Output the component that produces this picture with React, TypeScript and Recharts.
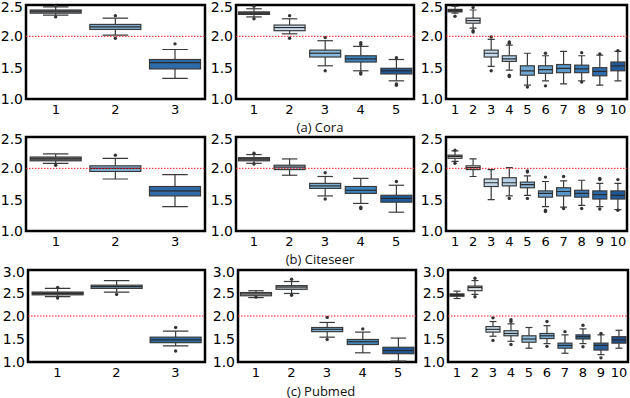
import React from 'react';
import { ComposedChart, Bar, XAxis, YAxis, ReferenceLine, ReferenceArea, Cell } from 'recharts';

type Box = { lo: number; q1: number; med: number; q3: number; hi: number; out: number[] };
const bx = (lo: number, q1: number, med: number, q3: number, hi: number, out: number[] = []): Box => ({ lo, q1, med, q3, hi, out });

const cats3 = ['1', '2', '3'];
const cats5 = ['1', '2', '3', '4', '5'];
const cats10 = ['1', '2', '3', '4', '5', '6', '7', '8', '9', '10'];

const yTicksLow = [1.0, 1.5, 2.0, 2.5];
const yTicksHigh = [1.0, 1.5, 2.0, 2.5, 3.0];
const captions = ['(a) Cora', '(b) Citeseer', '(c) Pubmed'];

// Cora
const coraA: Box[] = [
  bx(2.34, 2.37, 2.40, 2.42, 2.47, [2.49, 2.31]),
  bx(2.02, 2.11, 2.15, 2.19, 2.29, [2.33, 1.97]),
  bx(1.33, 1.48, 1.58, 1.63, 1.79, [1.88]),
];
const coraB: Box[] = [
  bx(2.31, 2.35, 2.37, 2.39, 2.44, [2.48, 2.28]),
  bx(2.04, 2.09, 2.14, 2.18, 2.28, [2.33, 1.97]),
  bx(1.53, 1.67, 1.73, 1.78, 1.93, [1.98, 1.45]),
  bx(1.45, 1.59, 1.64, 1.69, 1.84, [1.87, 1.90, 1.40, 1.42]),
  bx(1.29, 1.40, 1.45, 1.49, 1.63, [1.66, 1.22, 1.24]),
];
const coraC: Box[] = [
  bx(2.37, 2.39, 2.41, 2.43, 2.48, [2.32]),
  bx(2.13, 2.21, 2.25, 2.29, 2.42, [2.46, 2.07, 2.09]),
  bx(1.52, 1.67, 1.73, 1.78, 1.95, [1.99, 1.45]),
  bx(1.46, 1.60, 1.64, 1.69, 1.86, [1.89, 1.91, 1.38, 1.36]),
  bx(1.22, 1.38, 1.45, 1.53, 1.73, [1.19]),
  bx(1.29, 1.41, 1.47, 1.53, 1.69, [1.73, 1.21]),
  bx(1.24, 1.42, 1.49, 1.55, 1.76, []),
  bx(1.29, 1.42, 1.48, 1.54, 1.69, [1.74, 1.27]),
  bx(1.22, 1.37, 1.44, 1.50, 1.70, [1.72]),
  bx(1.29, 1.45, 1.53, 1.59, 1.76, [1.77]),
];

// Citeseer
const citeA: Box[] = [
  bx(2.08, 2.12, 2.15, 2.18, 2.23, [2.05]),
  bx(1.83, 1.95, 2.00, 2.04, 2.16, [2.21]),
  bx(1.39, 1.56, 1.64, 1.71, 1.90, []),
];
const citeB: Box[] = [
  bx(2.08, 2.12, 2.15, 2.17, 2.22, [2.24, 2.07]),
  bx(1.89, 1.98, 2.02, 2.05, 2.15, []),
  bx(1.56, 1.68, 1.72, 1.76, 1.87, [1.93, 1.51]),
  bx(1.44, 1.60, 1.65, 1.71, 1.84, [1.38, 1.36]),
  bx(1.30, 1.46, 1.52, 1.57, 1.73, [1.79]),
];
const citeC: Box[] = [
  bx(2.11, 2.16, 2.19, 2.21, 2.28, [2.29, 2.08]),
  bx(1.87, 1.98, 2.01, 2.04, 2.15, []),
  bx(1.50, 1.71, 1.77, 1.83, 1.98, []),
  bx(1.56, 1.72, 1.77, 1.85, 2.01, [1.52]),
  bx(1.57, 1.69, 1.74, 1.78, 1.88, [1.96, 1.94, 1.52]),
  bx(1.39, 1.54, 1.60, 1.64, 1.79, [1.86, 1.33, 1.31]),
  bx(1.38, 1.56, 1.63, 1.69, 1.80, [1.87, 1.36]),
  bx(1.41, 1.54, 1.60, 1.65, 1.81, [1.36]),
  bx(1.39, 1.51, 1.58, 1.64, 1.76, [1.84, 1.82, 1.35]),
  bx(1.34, 1.51, 1.57, 1.64, 1.76, [1.82, 1.33]),
];

// Pubmed
const pubA: Box[] = [
  bx(2.42, 2.46, 2.49, 2.52, 2.60, [2.62, 2.39]),
  bx(2.52, 2.60, 2.64, 2.67, 2.77, [2.47]),
  bx(1.35, 1.42, 1.48, 1.54, 1.67, [1.75, 1.24]),
];
const pubB: Box[] = [
  bx(2.40, 2.44, 2.48, 2.51, 2.55, [2.41]),
  bx(2.49, 2.58, 2.63, 2.66, 2.75, [2.80, 2.45]),
  bx(1.54, 1.66, 1.71, 1.75, 1.86, [1.97, 1.49]),
  bx(1.20, 1.38, 1.44, 1.49, 1.65, [1.72]),
  bx(1.02, 1.18, 1.25, 1.32, 1.52, []),
];
const pubC: Box[] = [
  bx(2.38, 2.43, 2.46, 2.48, 2.54, []),
  bx(2.47, 2.55, 2.62, 2.65, 2.77, [2.82, 2.42]),
  bx(1.56, 1.65, 1.71, 1.77, 1.88, [1.96, 1.47]),
  bx(1.45, 1.57, 1.62, 1.68, 1.83, [1.92, 1.88, 1.38]),
  bx(1.30, 1.43, 1.50, 1.57, 1.75, []),
  bx(1.40, 1.51, 1.57, 1.62, 1.79, [1.88, 1.34]),
  bx(1.19, 1.30, 1.36, 1.41, 1.59, [1.66]),
  bx(1.40, 1.50, 1.55, 1.59, 1.72, [1.80, 1.33]),
  bx(1.16, 1.26, 1.36, 1.41, 1.59, [1.62, 1.09]),
  bx(1.30, 1.41, 1.48, 1.55, 1.69, []),
];

// colours (style)
const pal3 = ['#75797d', '#7fb1d6', '#2d6ca8'];
const pal5r1 = ['#6a6a6a', '#c9dff0', '#86b9dc', '#3b84c0', '#215a99'];
const pal5r2 = ['#707070', '#9ec5e1', '#7cb1d8', '#3e85c0', '#1f5b9b'];
const pal5r3 = ['#c3c7ca', '#b6c1c8', '#7fb3d9', '#4b8fc7', '#1e5799'];
const pal10r1 = ['#555555', '#e4edf5', '#c4dcee', '#b3d1e8', '#6ea7d2', '#6aa5d2', '#5a99cb', '#3c80bd', '#2e6cb0', '#22599a'];
const pal10r2 = ['#cfcfcf', '#e8e8e8', '#c7dbeb', '#b5d0e6', '#8bb9db', '#6fa3cf', '#5796c9', '#3b7ab5', '#2967ab', '#1e5898'];
const pal10r3 = ['#333333', '#d6dde3', '#d0e3f2', '#b8d4ea', '#93c0e0', '#7eb3db', '#4d8fc8', '#2f6fb0', '#2a5f9e', '#1f4f8c'];

const BoxShape = (props: any) => {
  const { x, y, width, height, payload, fill } = props;
  if (payload == null || !isFinite(y) || !isFinite(height)) return null;
  const top = Math.min(y, y + height);
  const bot = Math.max(y, y + height);
  const { lo, hi, q1, q3, med, out } = payload;
  const span = hi - lo || 1;
  const py = (v: number) => bot - ((v - lo) / span) * (bot - top);
  const cx = x + width / 2;
  const capW = width * 0.5;
  const edge = '#3a3a3a';
  return (
    <g>
      <line x1={cx} x2={cx} y1={py(hi)} y2={py(q3)} stroke={edge} strokeWidth={1.2} />
      <line x1={cx} x2={cx} y1={py(q1)} y2={py(lo)} stroke={edge} strokeWidth={1.2} />
      <line x1={cx - capW / 2} x2={cx + capW / 2} y1={py(hi)} y2={py(hi)} stroke={edge} strokeWidth={1.2} />
      <line x1={cx - capW / 2} x2={cx + capW / 2} y1={py(lo)} y2={py(lo)} stroke={edge} strokeWidth={1.2} />
      <rect x={x} y={py(q3)} width={width} height={Math.max(1, py(q1) - py(q3))} fill={fill} stroke={edge} strokeWidth={1.2} />
      <line x1={x} x2={x + width} y1={py(med)} y2={py(med)} stroke="#2a2a2a" strokeWidth={1.2} />
      {out.map((o: number, i: number) => (
        <circle key={i} cx={cx} cy={py(o)} r={1.7} fill="#333" />
      ))}
    </g>
  );
};

const xTickStyle = { fontFamily: 'DejaVu Sans', fontSize: 13, fill: '#000' };
const yTickStyle = { fontFamily: 'DejaVu Sans', fontSize: 14, fill: '#000' };

type PanelProps = {
  boxes: Box[]; cats: string[]; colors: string[];
  left: number; top: number; right: number; bottom: number;
  yMax: number; yTicks: number[]; gap: string;
};

function Panel({ boxes, cats, colors, left, top, right, bottom, yMax, yTicks, gap }: PanelProps) {
  const data = cats.map((c, i) => ({ name: c, ...boxes[i] }));
  const ML = 30, MT = 6, MR = 6, XH = 20;
  const pw = right - left, ph = bottom - top;
  return (
    <div style={{ position: 'absolute', left: left - ML, top: top - MT }}>
      <ComposedChart width={pw + ML + MR} height={ph + MT + XH} data={data}
        margin={{ top: MT, right: MR, left: 0, bottom: 0 }} barCategoryGap={gap}>
        <XAxis dataKey="name" type="category" tickLine={false} axisLine={false} tickSize={1} tickMargin={5}
          height={XH} interval={0} tick={xTickStyle} />
        <YAxis type="number" domain={[1, yMax]} ticks={yTicks} allowDataOverflow width={ML}
          tickLine={false} axisLine={false} tickSize={1} tickMargin={2} tick={yTickStyle}
          tickFormatter={(v: number) => v.toFixed(1)} />
        <ReferenceLine y={2} stroke="#ff1a1a" strokeWidth={1} strokeDasharray="1.5 1.5" />
        <Bar dataKey={(d: any) => [d.lo, d.hi]} shape={BoxShape} isAnimationActive={false}>
          {data.map((_, i) => <Cell key={i} fill={colors[i]} />)}
        </Bar>
        <ReferenceArea y1={1} y2={yMax} fill="none" fillOpacity={0} stroke="#000" strokeWidth={2.5} ifOverflow="visible" />
      </ComposedChart>
    </div>
  );
}

const captionStyle: React.CSSProperties = {
  position: 'absolute', width: 200, textAlign: 'center', fontFamily: 'Open Sans', fontSize: 13,
  color: '#111', lineHeight: '13px', height: 13,
};

export default function App() {
  return (
    <div style={{ position: 'absolute', left: 0, top: 0, width: 630, height: 398, background: '#fff', overflow: 'hidden' }}>
      <Panel boxes={coraA} cats={cats3} colors={pal3} left={26} top={5} right={205} bottom={99} yMax={2.5} yTicks={yTicksLow} gap="7%" />
      <Panel boxes={coraB} cats={cats5} colors={pal5r1} left={236} top={5} right={414} bottom={99} yMax={2.5} yTicks={yTicksLow} gap="7%" />
      <Panel boxes={coraC} cats={cats10} colors={pal10r1} left={446} top={5} right={627} bottom={99} yMax={2.5} yTicks={yTicksLow} gap="11%" />
      <div style={{ ...captionStyle, left: 220, top: 120.5 }}>{captions[0]}</div>

      <Panel boxes={citeA} cats={cats3} colors={pal3} left={26} top={137} right={205} bottom={231} yMax={2.5} yTicks={yTicksLow} gap="7%" />
      <Panel boxes={citeB} cats={cats5} colors={pal5r2} left={236} top={137} right={414} bottom={231} yMax={2.5} yTicks={yTicksLow} gap="7%" />
      <Panel boxes={citeC} cats={cats10} colors={pal10r2} left={446} top={137} right={627} bottom={231} yMax={2.5} yTicks={yTicksLow} gap="11%" />
      <div style={{ ...captionStyle, left: 220, top: 252.5 }}>{captions[1]}</div>

      <Panel boxes={pubA} cats={cats3} colors={pal3} left={28} top={270} right={205} bottom={362} yMax={3.0} yTicks={yTicksHigh} gap="7%" />
      <Panel boxes={pubB} cats={cats5} colors={pal5r3} left={238} top={270} right={416} bottom={362} yMax={3.0} yTicks={yTicksHigh} gap="7%" />
      <Panel boxes={pubC} cats={cats10} colors={pal10r3} left={448} top={270} right={628} bottom={362} yMax={3.0} yTicks={yTicksHigh} gap="11%" />
      <div style={{ ...captionStyle, left: 221, top: 384.5 }}>{captions[2]}</div>
    </div>
  );
}
